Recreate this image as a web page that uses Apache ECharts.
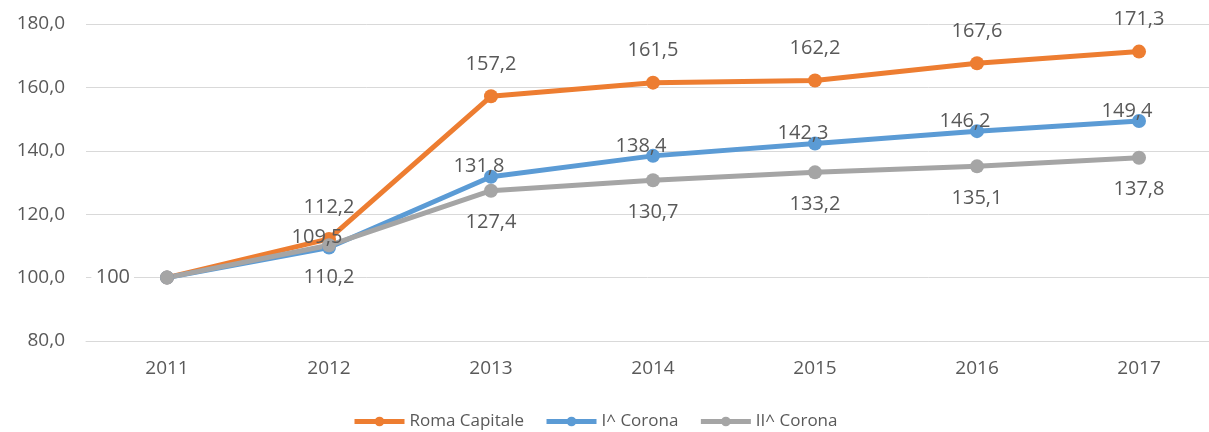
<!DOCTYPE html>
<html lang="it">
<head>
    <meta charset="UTF-8">
    <title>Roma Capitale / Corona</title>
    <script type="text/javascript" src="https://cdn.jsdelivr.net/npm/echarts@6/dist/echarts.min.js"></script>
    <style>
        html, body { margin: 0; padding: 0; background: #fff; }
        #line { width: 1209px; height: 432px; }
    </style>
</head>
<body>
<div id="line"></div>
<script>
    // dati
    var anni = [2011, 2012, 2013, 2014, 2015, 2016, 2017];
    var romaCapitale = [100, 112.2, 157.2, 161.5, 162.2, 167.6, 171.3];
    var primaCorona = [100, 109.5, 131.8, 138.4, 142.3, 146.2, 149.4];
    var secondaCorona = [100, 110.2, 127.4, 130.7, 133.2, 135.1, 137.8];
    var nomi = ['Roma Capitale', 'I^ Corona', 'II^ Corona'];

    var font = 'Open Sans';
    var testo = '#595959';

    function fmt(v) {
        return v.toFixed(1).replace('.', ',');
    }

    // la prima etichetta (100) va a sinistra, senza decimali
    function serie(nome, valori, colore, pos, dist, off) {
        var data = valori.map(function (v, i) {
            if (i === 0) {
                return {
                    value: [anni[i], v],
                    label: {
                        position: 'left', distance: 26, offset: [0, 0],
                        backgroundColor: '#fff', padding: [0, 4],
                        formatter: '100'
                    }
                };
            }
            return [anni[i], v];
        });
        return {
            name: nome,
            type: 'line',
            data: data,
            symbol: 'circle',
            symbolSize: 14,
            lineStyle: { width: 5, color: colore },
            itemStyle: { color: colore },
            label: {
                show: true,
                position: pos,
                distance: dist,
                offset: off,
                color: testo,
                fontFamily: font,
                fontSize: 20,
                formatter: function (p) { return fmt(p.value[1]); }
            },
            animation: false
        };
    }

    var option = {
        backgroundColor: '#fff',
        grid: { left: 86, top: 24, right: 0, bottom: 91 },
        legend: {
            top: 408,
            left: 347,
            itemWidth: 50,
            itemHeight: 12,
            itemGap: 20,
            lineStyle: { width: 5 },
            textStyle: { color: testo, fontFamily: font, fontSize: 17 },
            data: nomi
        },
        xAxis: {
            // asse numerico: ogni anno occupa una "fascia" larga 1, come nel grafico originale
            type: 'value',
            min: 2010.5,
            max: 2017.432,
            interval: 0.5,
            splitLine: { show: false },
            axisLine: { lineStyle: { color: '#d9d9d9', width: 1 } },
            axisTick: { show: false },
            axisLabel: {
                color: testo, fontFamily: font, fontSize: 19, margin: 18,
                showMinLabel: false, showMaxLabel: false, hideOverlap: false,
                formatter: function (v) {
                    return Math.abs(v - Math.round(v)) < 1e-6 ? String(Math.round(v)) : '';
                }
            }
        },
        yAxis: {
            type: 'value',
            min: 80,
            max: 180,
            interval: 20,
            axisLine: { show: false },
            axisTick: { show: false },
            splitLine: { lineStyle: { color: '#d9d9d9', width: 1 } },
            axisLabel: {
                color: testo, fontFamily: font, fontSize: 19, margin: 21,
                formatter: function (v) { return fmt(v); }
            }
        },
        series: [
            serie(nomi[0], romaCapitale, '#ED7D31', 'top', 15, [0, 0]),
            serie(nomi[1], primaCorona, '#5B9BD5', 'top', -7, [-12, 0]),
            serie(nomi[2], secondaCorona, '#A5A5A5', 'bottom', 15, [0, 0])
        ]
    };

    var myChart = echarts.init(document.getElementById('line'));
    myChart.setOption(option);
</script>
</body>
</html>
